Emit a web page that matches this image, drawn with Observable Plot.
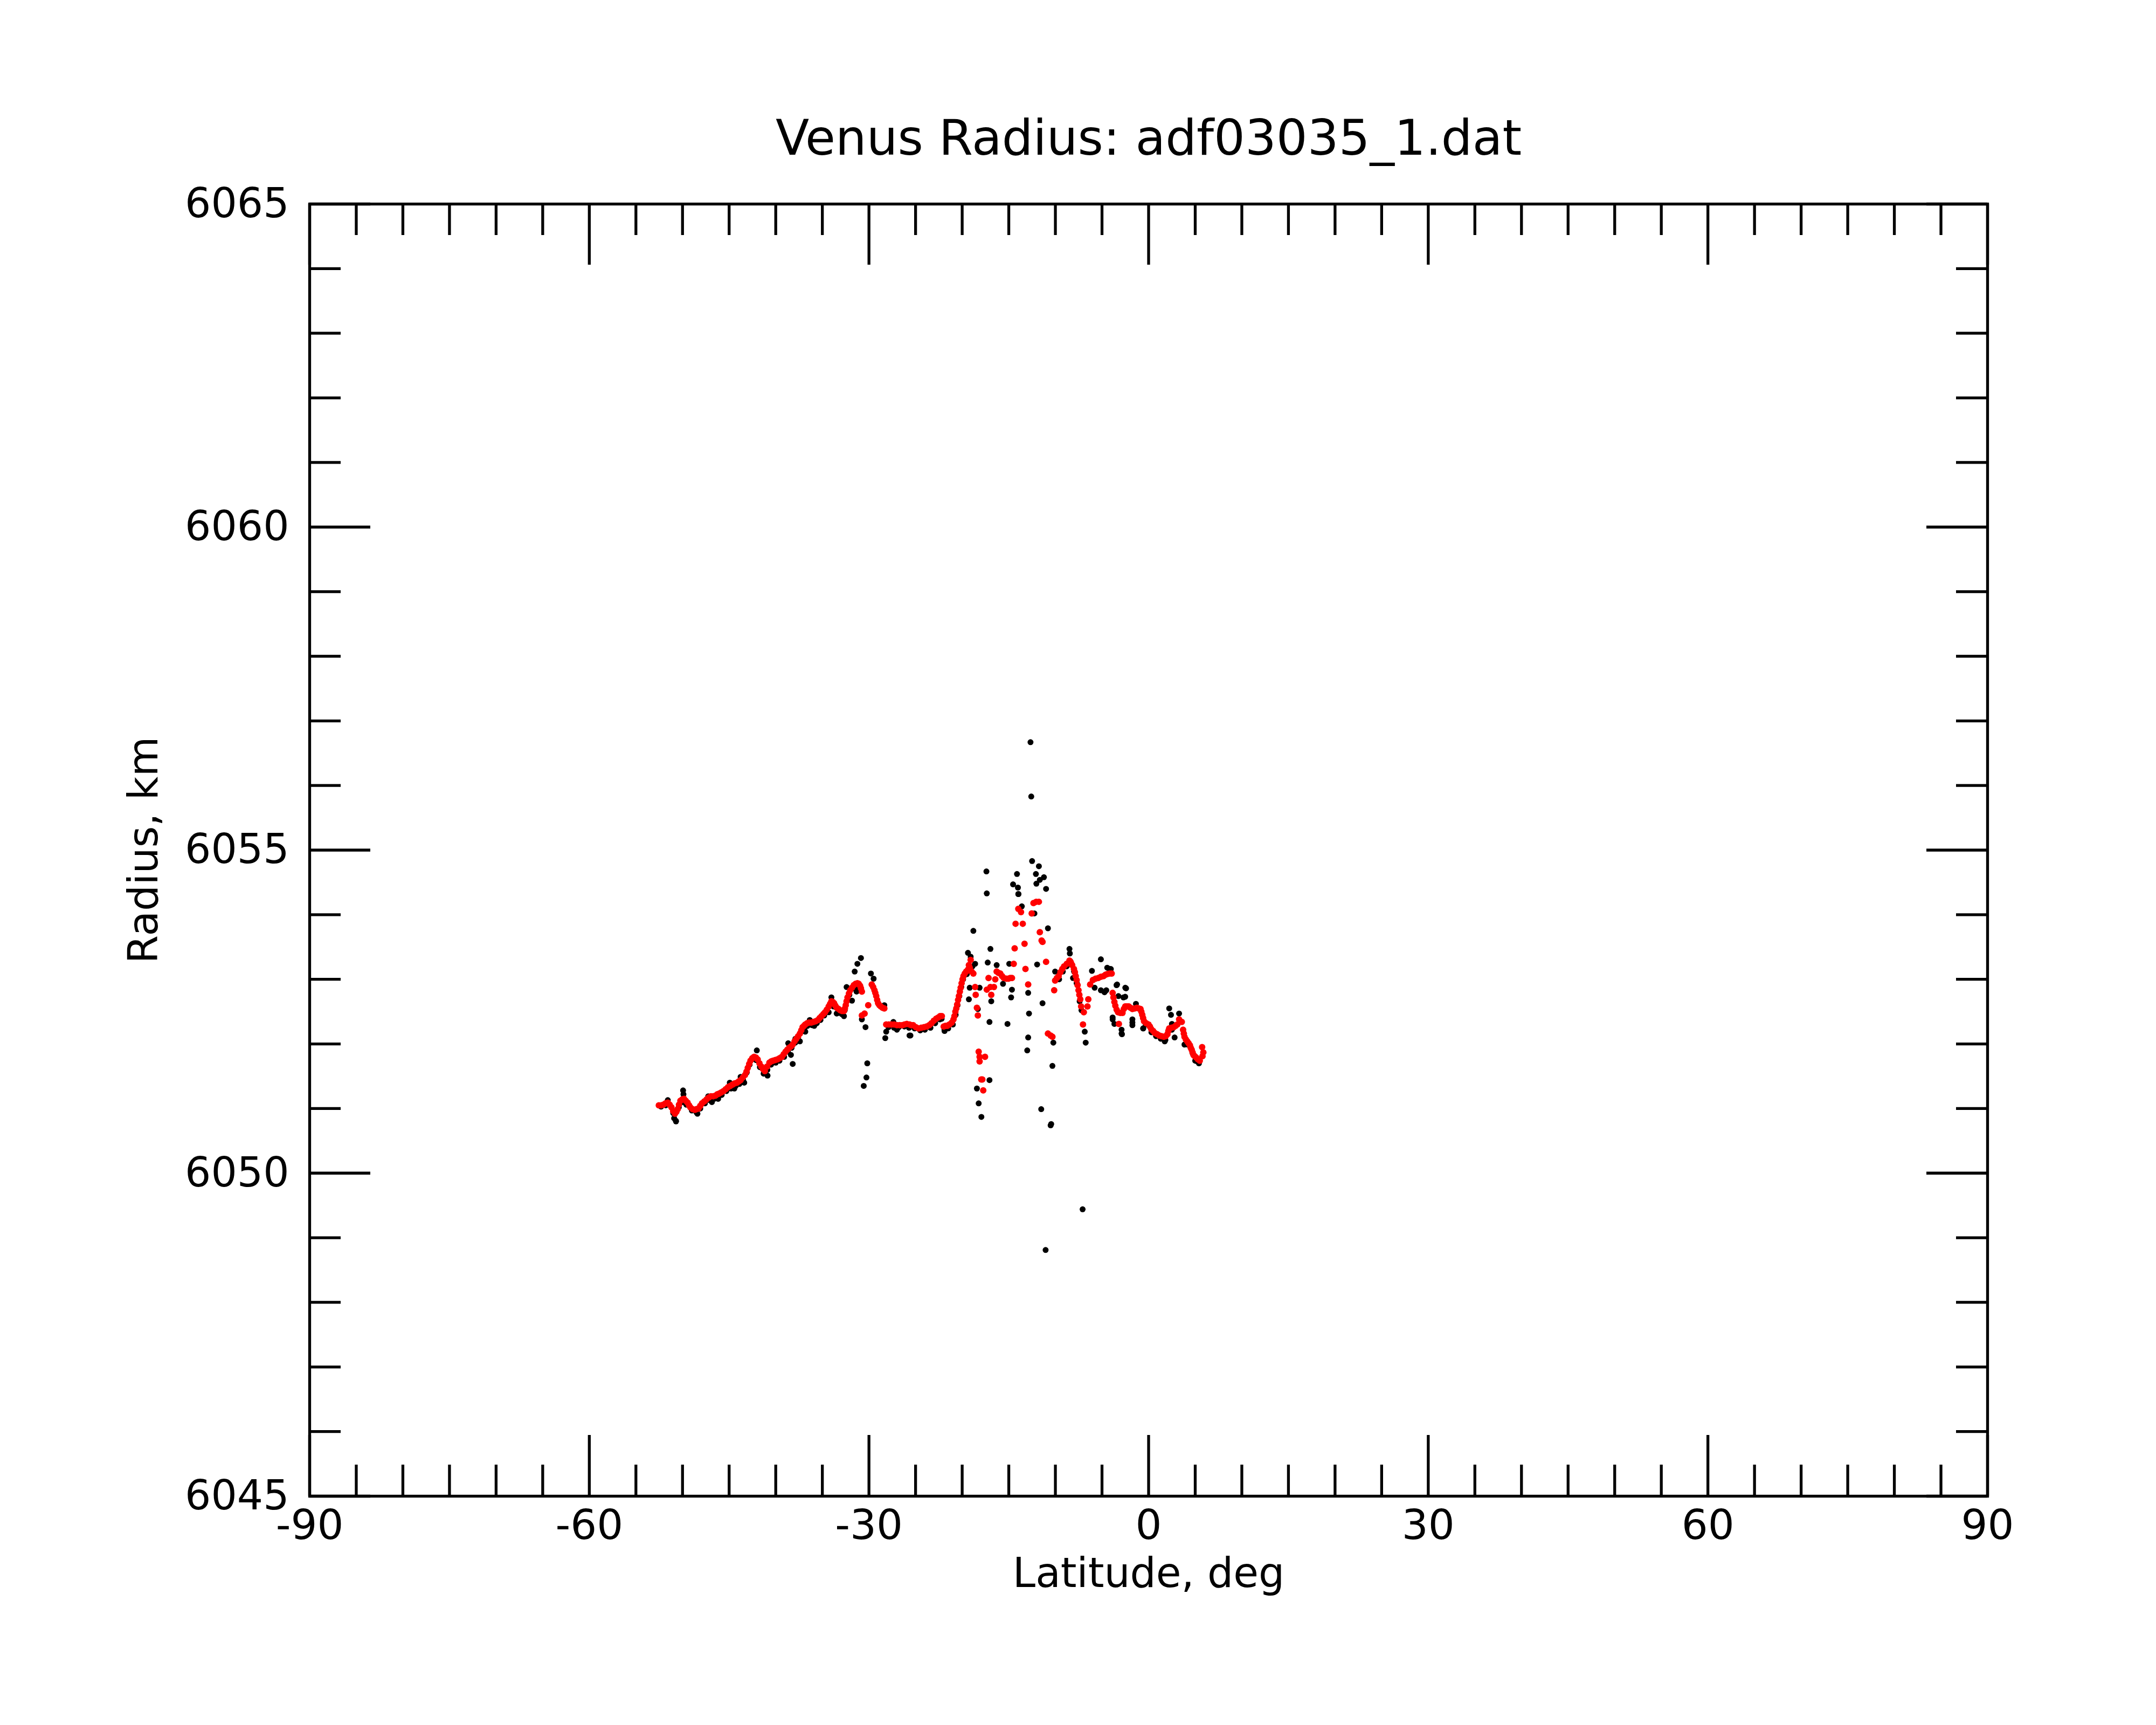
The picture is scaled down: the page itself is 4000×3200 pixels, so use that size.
<!DOCTYPE html>
<html>
<head>
<meta charset="utf-8">
<script src="https://cdn.jsdelivr.net/npm/d3@7"></script>
<script src="https://cdn.jsdelivr.net/npm/@observablehq/plot@0.6"></script>
<style>
  body { margin: 0; background: #ffffff; }
  #chart svg { display: block; }
</style>
</head>
<body>
<div id="chart"></div>
<script>
// ---- Texts ----
const titleText = "Venus Radius: adf03035_1.dat";
const xLabelText = "Latitude, deg";
const yLabelText = "Radius, km";

// ---- Tick values ----
const xMajorTicks = [-90, -60, -30, 0, 30, 60, 90];
const xMinorTicks = [-85, -80, -75, -70, -65, -55, -50, -45, -40, -35, -25, -20, -15, -10, -5,
                     5, 10, 15, 20, 25, 35, 40, 45, 50, 55, 65, 70, 75, 80, 85];
const yMajorTicks = [6045, 6050, 6055, 6060, 6065];
const yMinorTicks = [6046, 6047, 6048, 6049, 6051, 6052, 6053, 6054, 6056, 6057, 6058, 6059,
                     6061, 6062, 6063, 6064];

// ---- Red series (filtered radius): [latitude, radius] ----
const redPoints = [
  [-52.54,6051.05],[-52.30,6051.05],[-52.06,6051.06],[-51.82,6051.08],[-51.58,6051.09],[-51.38,6051.06],[-51.19,6051.02],
  [-51.00,6050.96],[-50.81,6050.92],[-50.66,6050.95],[-50.52,6050.99],[-50.38,6051.06],[-50.23,6051.12],[-50.04,6051.14],
  [-49.84,6051.15],[-49.65,6051.12],[-49.46,6051.09],[-49.30,6051.05],[-49.17,6051.02],[-48.92,6050.99],[-48.68,6050.98],
  [-48.50,6050.99],[-48.30,6051.00],[-48.10,6051.04],[-47.91,6051.08],[-47.67,6051.11],[-47.43,6051.14],[-47.19,6051.17],
  [-46.95,6051.19],[-46.71,6051.19],[-46.47,6051.20],[-46.27,6051.22],[-46.08,6051.23],[-45.84,6051.25],[-45.60,6051.27],
  [-45.36,6051.30],[-45.12,6051.33],[-44.88,6051.35],[-44.64,6051.37],[-44.40,6051.39],[-44.16,6051.40],[-43.96,6051.42],
  [-43.77,6051.44],[-43.53,6051.48],[-43.29,6051.52],[-43.14,6051.57],[-43.00,6051.63],[-42.85,6051.69],[-42.71,6051.74],
  [-42.52,6051.78],[-42.32,6051.80],[-42.13,6051.79],[-41.94,6051.76],[-41.75,6051.70],[-41.55,6051.65],[-41.36,6051.61],
  [-41.17,6051.58],[-40.92,6051.65],[-40.68,6051.71],[-40.49,6051.73],[-40.30,6051.74],[-40.06,6051.75],[-39.82,6051.76],
  [-39.58,6051.78],[-39.34,6051.80],[-39.15,6051.84],[-38.95,6051.88],[-38.76,6051.91],[-38.56,6051.94],[-38.37,6051.96],
  [-38.18,6051.99],[-37.98,6052.04],[-37.79,6052.08],[-37.60,6052.12],[-37.41,6052.16],[-37.26,6052.21],[-37.12,6052.26],
  [-36.97,6052.28],[-36.83,6052.30],[-36.64,6052.32],[-36.44,6052.33],[-36.20,6052.33],[-35.96,6052.34],[-35.72,6052.35],
  [-35.48,6052.37],[-35.29,6052.40],[-35.09,6052.43],[-34.90,6052.46],[-34.71,6052.49],[-34.52,6052.53],[-34.32,6052.58],
  [-34.17,6052.62],[-34.03,6052.66],[-33.88,6052.65],[-33.74,6052.63],[-33.60,6052.59],[-33.46,6052.56],[-33.26,6052.54],
  [-33.07,6052.52],[-32.88,6052.51],[-32.68,6052.51],[-32.58,6052.55],[-32.49,6052.60],[-32.40,6052.66],[-32.30,6052.72],
  [-32.15,6052.78],[-32.01,6052.83],[-31.82,6052.87],[-31.62,6052.91],[-31.43,6052.93],[-31.24,6052.94],[-31.10,6052.93],
  [-30.95,6052.90],[-30.86,6052.86],[-30.76,6052.81],
  [-30.47,6052.47],[-30.76,6052.44],[-30.08,6052.60],
  [-29.70,6052.92],[-29.55,6052.88],[-29.41,6052.83],[-29.32,6052.79],[-29.22,6052.74],[-29.12,6052.68],[-29.02,6052.63],
  [-28.88,6052.60],[-28.73,6052.58],[-28.54,6052.56],[-28.35,6052.55],
  [-28.15,6052.30],[-27.87,6052.30],[-27.58,6052.30],[-27.29,6052.30],[-27.00,6052.29],[-26.71,6052.29],[-26.42,6052.29],
  [-26.18,6052.30],[-25.94,6052.31],[-25.65,6052.30],[-25.46,6052.29],[-25.26,6052.29],[-24.97,6052.26],[-24.68,6052.24],
  [-24.39,6052.25],[-24.10,6052.26],[-23.82,6052.27],[-23.53,6052.29],[-23.30,6052.32],[-23.04,6052.36],[-22.79,6052.39],
  [-22.56,6052.41],[-22.37,6052.43],[-22.18,6052.43],
  [-21.98,6052.27],[-21.79,6052.28],[-21.60,6052.28],[-21.37,6052.30],[-21.12,6052.33],[-20.93,6052.38],[-20.83,6052.43],
  [-20.73,6052.50],[-20.63,6052.55],[-20.54,6052.61],[-20.44,6052.68],[-20.35,6052.74],[-20.25,6052.81],[-20.16,6052.87],
  [-20.06,6052.94],[-19.96,6053.00],[-19.86,6053.05],[-19.72,6053.09],[-19.57,6053.12],[-19.38,6053.15],[-19.19,6053.18],
  [-19.09,6053.30],[-19.28,6053.22],[-18.99,6053.12],[-18.80,6053.09],
  [-18.61,6052.88],[-18.55,6052.76],[-18.42,6052.56],[-18.32,6052.44],
  [-18.23,6051.88],[-18.13,6051.80],[-17.55,6051.80],[-18.13,6051.73],[-17.84,6051.45],[-17.95,6051.45],[-17.74,6051.28],
  [-17.17,6053.02],[-17.36,6052.84],[-16.97,6052.88],[-16.88,6052.76],[-16.59,6052.88],[-16.45,6053.00],[-16.30,6053.12],
  [-16.11,6053.10],[-15.91,6053.09],[-15.72,6053.05],[-15.53,6053.02],[-15.24,6053.01],[-15.04,6053.01],[-14.85,6053.02],
  [-14.66,6053.02],
  [-14.47,6053.24],[-14.37,6053.48],[-14.27,6053.86],[-13.98,6054.09],[-13.69,6054.04],[-13.50,6053.86],[-13.31,6053.55],
  [-13.21,6053.16],[-12.92,6052.92],[-12.54,6054.02],[-12.35,6054.18],[-12.06,6054.20],[-11.77,6054.20],[-11.67,6053.73],
  [-11.48,6053.60],[-11.38,6053.58],[-11.00,6053.27],[-10.80,6052.16],[-10.51,6052.13],[-10.32,6052.11],
  [-10.13,6052.83],[-10.03,6052.98],[-9.84,6053.02],[-9.65,6053.05],[-9.46,6053.11],[-9.26,6053.16],[-9.07,6053.20],
  [-8.78,6053.24],[-8.49,6053.29],[-8.34,6053.26],[-8.20,6053.22],[-8.01,6053.16],[-7.91,6053.11],[-7.82,6053.05],
  [-7.72,6052.99],[-7.62,6052.91],[-7.52,6052.83],[-7.43,6052.76],[-7.33,6052.69],[-7.24,6052.58],[-6.95,6052.49],
  [-7.04,6052.30],[-6.47,6052.69],[-6.56,6052.58],
  [-6.27,6052.92],[-5.98,6052.99],[-5.69,6053.01],[-5.40,6053.02],[-5.12,6053.04],[-4.83,6053.05],[-4.63,6053.07],
  [-4.44,6053.08],[-4.20,6053.09],[-3.96,6053.09],
  [-3.86,6052.79],[-3.77,6052.72],[-3.67,6052.65],[-3.57,6052.59],[-3.43,6052.53],[-3.28,6052.49],[-3.19,6052.31],
  [-3.04,6052.48],[-2.80,6052.48],[-2.66,6052.54],[-2.51,6052.58],[-2.32,6052.58],[-2.13,6052.58],[-1.94,6052.56],
  [-1.74,6052.54],[-1.50,6052.55],[-1.26,6052.56],[-1.06,6052.55],[-0.87,6052.54],[-0.78,6052.50],[-0.68,6052.45],
  [-0.59,6052.40],[-0.49,6052.35],[-0.25,6052.32],[-0.01,6052.30],[0.14,6052.27],[0.28,6052.23],[0.48,6052.20],
  [0.67,6052.17],[0.91,6052.15],[1.15,6052.13],[1.39,6052.12],[1.63,6052.11],[1.83,6052.12],[2.02,6052.15],
  [2.12,6052.20],[2.21,6052.24],[2.45,6052.25],[2.69,6052.26],[2.89,6052.28],[3.08,6052.30],[3.27,6052.38],
  [3.56,6052.34],[3.70,6052.22],[3.78,6052.16],[3.85,6052.11],[4.00,6052.07],[4.14,6052.04],[4.29,6052.01],
  [4.43,6051.98],[4.52,6051.94],[4.62,6051.91],[4.72,6051.87],[4.81,6051.83],[4.95,6051.81],[5.10,6051.79],
  [5.30,6051.76],[5.49,6051.74],[5.78,6051.81],[5.87,6051.87],[5.74,6051.95]
];

// ---- Black series (raw radius): [latitude, radius] ----
const blackPoints = [
  // along the profile
  [-52.30,6051.03],[-51.80,6051.05],[-51.00,6050.93],[-50.90,6050.85],[-50.70,6050.80],[-50.40,6051.02],[-50.00,6051.10],
  [-49.60,6051.06],[-49.00,6050.97],[-48.50,6050.94],[-48.10,6051.00],[-47.60,6051.08],[-47.10,6051.13],[-46.60,6051.15],
  [-46.20,6051.17],[-45.80,6051.21],[-45.30,6051.27],[-44.80,6051.31],[-44.30,6051.35],[-43.90,6051.38],[-43.50,6051.44],
  [-43.10,6051.56],[-42.80,6051.68],[-42.50,6051.77],[-42.10,6051.75],[-41.70,6051.64],[-41.30,6051.54],[-40.90,6051.60],
  [-40.50,6051.68],[-40.00,6051.71],[-39.60,6051.74],[-39.10,6051.80],[-38.70,6051.88],[-38.30,6051.94],[-37.90,6052.02],
  [-37.60,6052.10],[-37.20,6052.20],[-36.90,6052.25],[-36.60,6052.28],[-36.10,6052.29],[-35.60,6052.32],[-35.20,6052.37],
  [-34.80,6052.44],[-34.50,6052.50],[-34.10,6052.60],[-33.80,6052.58],[-33.30,6052.48],[-32.90,6052.46],[-32.60,6052.52],
  [-32.10,6052.76],[-31.70,6052.86],[-31.40,6052.88],[-30.90,6052.85],
  [-27.90,6052.26],[-27.30,6052.25],[-26.80,6052.26],[-26.20,6052.27],[-25.70,6052.25],[-25.10,6052.24],[-24.50,6052.21],
  [-24.00,6052.22],[-23.40,6052.25],[-22.90,6052.32],[-22.40,6052.38],[-22.20,6052.39],[-21.90,6052.22],[-21.50,6052.24],
  [-21.00,6052.30],[-20.70,6052.45],[-20.50,6052.60],[-20.30,6052.74],[-20.10,6052.88],[-19.90,6053.00],[-19.50,6053.08],
  [-9.60,6053.00],[-9.20,6053.12],[-8.80,6053.20],[-8.40,6053.28],[-8.00,6053.12],[-7.70,6052.94],[-7.40,6052.66],
  [-7.20,6052.52],[-0.30,6052.30],[0.30,6052.18],[0.80,6052.12],[1.30,6052.08],[1.80,6052.06],[2.50,6052.22],
  [4.20,6051.99],[4.70,6051.86],[5.20,6051.73],[5.40,6051.70],
  // scattered raw values, southern part
  [-50.71,6050.81],[-49.94,6051.28],[-49.90,6051.22],[-51.58,6051.13],[-48.40,6050.92],[-47.24,6051.19],[-46.85,6051.10],
  [-46.18,6051.15],[-44.93,6051.40],[-44.44,6051.31],[-43.77,6051.49],[-43.38,6051.40],[-42.03,6051.90],[-40.88,6051.51],
  [-38.66,6052.01],[-38.37,6051.83],[-38.18,6051.69],[-37.89,6052.08],[-37.41,6052.04],[-36.83,6052.19],[-36.35,6052.37],
  [-35.87,6052.28],[-34.03,6052.72],[-34.32,6052.49],[-33.46,6052.47],[-32.68,6052.43],[-32.40,6052.88],[-31.82,6052.67],
  [-31.53,6053.12],[-31.24,6053.24],[-30.86,6053.33],[-31.33,6052.81],[-29.79,6053.09],[-29.50,6053.01],[-30.76,6052.38],
  [-30.37,6052.26],[-30.18,6051.70],[-30.27,6051.48],[-30.56,6051.35],[-28.35,6052.60],[-28.25,6052.09],[-28.15,6052.19],
  [-27.38,6052.34],[-27.00,6052.22],[-25.65,6052.13],[-25.55,6052.13],[-21.89,6052.20],
  // scattered raw values, central part
  [-17.36,6054.33],[-13.98,6054.32],[-18.80,6053.75],[-16.97,6053.47],[-19.38,6053.41],[-17.26,6053.26],[-18.61,6053.24],
  [-16.30,6053.22],[-14.95,6053.24],[-11.96,6053.23],[-13.60,6054.13],[-12.25,6054.02],[-10.80,6053.79],[-19.19,6052.87],
  [-19.28,6052.69],[-18.13,6052.87],[-16.88,6052.66],[-15.62,6052.93],[-14.66,6052.84],[-14.75,6052.72],[-12.92,6052.79],
  [-11.38,6052.63],[-12.83,6052.47],[-17.07,6052.34],[-15.14,6052.31],[-18.32,6052.54],[-12.92,6052.10],[-13.02,6051.90],
  [-10.32,6051.66],[-17.07,6051.44],[-18.42,6051.31],[-18.23,6051.08],[-17.94,6050.87],[-11.52,6050.99],[-10.51,6050.74],
  [-10.45,6050.76],[-6.75,6052.02],[-6.85,6052.19],[-8.49,6053.47],[-8.45,6053.40],[-5.12,6053.31],[-5.12,6052.83],
  [-4.73,6052.80],[-5.79,6052.87],[-3.38,6052.92],[-2.50,6052.87],[-2.70,6052.72],[-3.86,6052.38],[-2.90,6052.16],
  [-1.74,6052.33],[-0.58,6052.24],[-10.22,6052.02],[-10.03,6053.12],[-7.72,6052.94],[-4.15,6053.16],[-6.08,6053.13],
  [-8.11,6053.02],[-19.09,6053.35],[-18.90,6053.20],
  // highest and lowest outliers
  [-12.67,6056.67],[-12.59,6055.83],[-12.50,6054.83],[-11.77,6054.75],[-17.40,6054.67],[-14.12,6054.63],[-12.09,6054.63],
  [-11.23,6054.58],[-11.67,6054.54],[-14.54,6054.47],[-12.04,6054.48],[-14.02,6054.42],[-11.00,6054.40],[-13.96,6054.32],
  [-7.08,6049.44],[-11.05,6048.81],
  // scattered raw values, northern part
  [-4.44,6053.18],[-4.05,6053.16],[-3.44,6052.91],[-2.42,6052.86],[-2.51,6052.73],[-3.24,6052.74],[-4.54,6052.83],
  [-3.86,6052.41],[-3.67,6052.31],[-2.90,6052.22],[-2.86,6052.15],[-1.74,6052.38],[-1.74,6052.29],[-1.36,6052.62],
  [-0.58,6052.24],[1.73,6052.04],[2.21,6052.55],[2.40,6052.45],[2.50,6052.31],[2.79,6052.10],[3.27,6052.47],
  [3.85,6051.99],[5.00,6051.74]
];

// ---- Layout (pixels) ----
const W = 4000, H = 3200;
const mLeft = 574, mRight = 313, mTop = 378, mBottom = 425;
const frameW = W - mLeft - mRight;
const frameH = H - mTop - mBottom;
const majorLen = 113, minorLen = 58, lineW = 5.3;

const chart = Plot.plot({
  width: W,
  height: H,
  marginLeft: mLeft,
  marginRight: mRight,
  marginTop: mTop,
  marginBottom: mBottom,
  style: {fontFamily: "DejaVu Sans", background: "#ffffff", color: "#000000"},
  x: {domain: [-90, 90]},
  y: {domain: [6045, 6065]},
  marks: [
    // data
    Plot.dot(blackPoints, {x: d => d[0], y: d => d[1], r: 5.5, fill: "#000000", stroke: "none"}),
    Plot.dot(redPoints, {x: d => d[0], y: d => d[1], r: 6, fill: "#ff0000", stroke: "none"}),
    // inward ticks: bottom / top
    Plot.tickX(xMajorTicks, {x: d => d, insetTop: frameH - majorLen, stroke: "#000", strokeWidth: lineW}),
    Plot.tickX(xMinorTicks, {x: d => d, insetTop: frameH - minorLen, stroke: "#000", strokeWidth: lineW}),
    Plot.tickX(xMajorTicks, {x: d => d, insetBottom: frameH - majorLen, stroke: "#000", strokeWidth: lineW}),
    Plot.tickX(xMinorTicks, {x: d => d, insetBottom: frameH - minorLen, stroke: "#000", strokeWidth: lineW}),
    // inward ticks: left / right
    Plot.tickY(yMajorTicks, {y: d => d, insetRight: frameW - majorLen, stroke: "#000", strokeWidth: lineW}),
    Plot.tickY(yMinorTicks, {y: d => d, insetRight: frameW - minorLen, stroke: "#000", strokeWidth: lineW}),
    Plot.tickY(yMajorTicks, {y: d => d, insetLeft: frameW - majorLen, stroke: "#000", strokeWidth: lineW}),
    Plot.tickY(yMinorTicks, {y: d => d, insetLeft: frameW - minorLen, stroke: "#000", strokeWidth: lineW}),
    // tick labels
    Plot.axisX(xMajorTicks, {tickSize: 0, tickPadding: 25, fontSize: 77, label: null, tickFormat: d => String(d)}),
    Plot.axisY(yMajorTicks, {tickSize: 0, tickPadding: 38, fontSize: 76, label: null, tickFormat: d => String(d)}),
    Plot.frame({stroke: "#000", strokeWidth: lineW}),
    // title and axis labels
    Plot.text([titleText], {text: d => d, frameAnchor: "top", textAnchor: "middle", lineAnchor: "bottom", dy: -92, fontSize: 91, fill: "#000"}),
    Plot.text([xLabelText], {text: d => d, frameAnchor: "bottom", textAnchor: "middle", lineAnchor: "bottom", dy: 168, fontSize: 76, fill: "#000"}),
    Plot.text([yLabelText], {text: d => d, frameAnchor: "left", textAnchor: "middle", lineAnchor: "bottom", rotate: -90, dx: -283, fontSize: 76, fill: "#000"})
  ]
});

document.getElementById("chart").appendChild(chart);
</script>
</body>
</html>
